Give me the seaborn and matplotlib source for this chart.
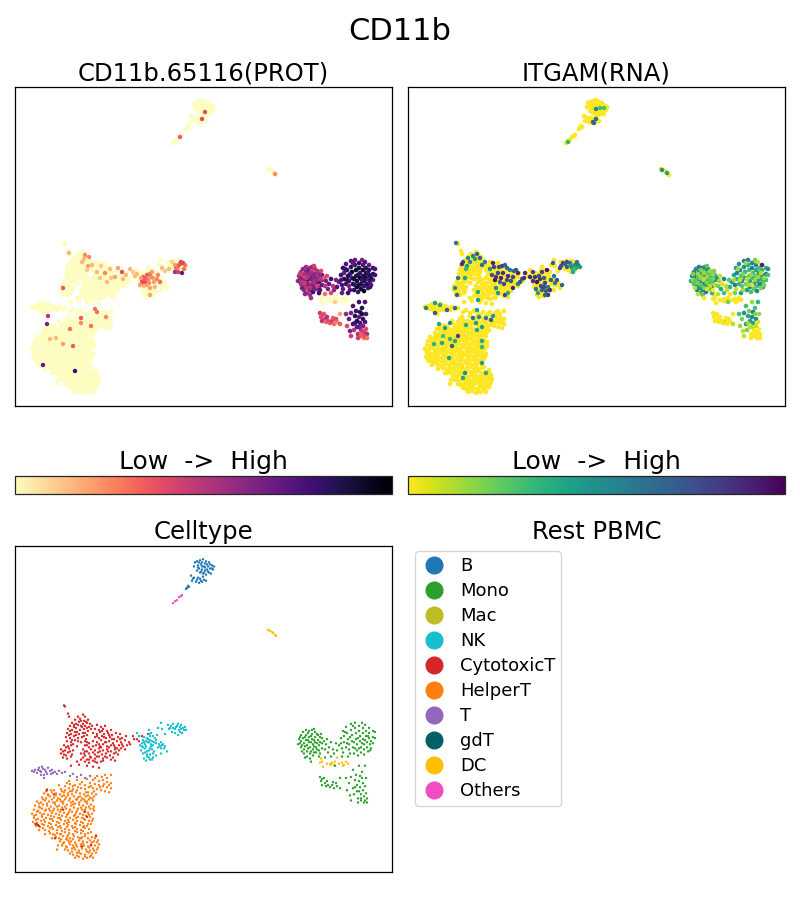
import matplotlib
matplotlib.use("Agg")
import matplotlib.pyplot as plt
import pandas as pd
import seaborn as sns
from matplotlib.cm import ScalarMappable
from matplotlib.colors import Normalize
from matplotlib.lines import Line2D

sns.set_style("white")
plt.rcParams["text.color"] = "black"
plt.rcParams["axes.labelcolor"] = "black"

title_main = "CD11b"
title_prot = "CD11b.65116(PROT)"
title_rna = "ITGAM(RNA)"
title_bar = "Low  ->  High"
title_type = "Celltype"
title_legend = "Rest PBMC"
celltypes = ["B", "Mono", "Mac", "NK", "CytotoxicT", "HelperT", "T", "gdT", "DC", "Others"]
type_colors = ["#1f77b4", "#2ca02c", "#bcbd22", "#17becf", "#d62728", "#ff7f0e", "#9467bd", "#006266", "#ffbf00", "#f14cc1"]

helper_cells = [
 (60,14),(64,15),(68,13),(72,14),(75,15),(78,14),(55,18),(58,17),(62,19),(66,18),(70,17),(74,19),(77,18),(81,19),
 (50,22),(53,21),(57,23),(60,22),(64,21),(67,23),(71,22),(75,21),(78,23),(82,22),(47,26),(51,25),(55,27),(58,26),
 (62,25),(66,27),(69,26),(73,25),(76,27),(80,26),(84,27),(45,30),(49,29),(53,31),(56,30),(60,29),(64,31),(68,30),
 (72,29),(75,31),(79,30),(83,31),(41,34),(44,33),(48,35),(52,34),(55,33),(59,35),(63,34),(66,33),(70,35),(77,34),(81,36),
 (38,37),(42,38),(46,37),(50,39),(54,38),(58,37),(62,39),(66,38),(70,37),(30,41),(34,40),(38,42),(42,41),(46,43),
 (50,42),(54,41),(58,43),(62,42),(66,41),(70,43),(74,42),(21,45),(25,44),(29,46),(33,45),(37,44),(41,46),(45,45),
 (49,47),(53,46),(57,45),(61,47),(65,46),(69,45),(73,47),(18,49),(22,48),(26,50),(30,49),(34,48),(38,50),(42,49),
 (46,51),(50,50),(54,49),(58,51),(62,50),(66,49),(70,51),(74,50),(19,53),(23,52),(27,54),(31,53),(35,52),(39,54),
 (43,53),(47,55),(51,54),(55,53),(59,55),(63,54),(67,53),(71,55),(75,54),(78,52),(17,57),(21,56),(25,58),(29,57),
 (33,56),(37,58),(41,57),(45,59),(49,58),(53,57),(57,59),(61,58),(65,57),(69,59),(73,58),(77,57),(79,60),(19,61),
 (23,60),(27,62),(31,61),(35,60),(39,62),(43,61),(47,63),(51,62),(55,61),(59,63),(63,62),(67,61),(71,63),(75,62),
 (20,65),(24,64),(28,66),(32,65),(36,64),(40,66),(44,65),(48,67),(52,66),(56,65),(60,67),(64,66),(68,65),(72,67),
 (76,66),(79,64),(22,69),(26,68),(30,70),(34,69),(38,68),(42,70),(46,69),(50,71),(54,70),(58,69),(62,71),(66,70),
 (70,69),(74,71),(78,70),(27,73),(31,72),(35,74),(39,73),(43,72),(47,74),(51,73),(55,72),(59,74),(63,73),(67,72),
 (71,74),(75,73),(79,74),(29,77),(33,76),(37,78),(41,77),(45,76),(49,78),(53,77),(57,76),(61,78),(65,77),(69,76),
 (73,78),(77,77),(81,76),(32,81),(36,80),(46,81),(50,80),(54,82),(58,81),(62,80),(66,82),(70,81),(74,83),(78,82),
 (82,81),(86,80),(90,79),(94,78),(44,85),(50,84),(55,86),(60,85),(65,86),(70,85),(75,87),(80,86),(84,85),(88,84),
 (92,83),(96,82),(54,89),(62,90),(72,91),(78,90),(84,89),(88,90),(92,88),(96,87),(82,94),(87,93),(92,92),(96,95),
 (42,22),(45,37),(35,38),(73,38),(67,34),(43,26),(37,33),(30,37),(24,41),
 (62,16),(70,15),(76,16),(57,20),(64,19),(72,20),(79,21),(52,24),(59,24),(66,25),(74,24),(83,24),(48,28),(54,29),
 (61,27),(68,28),(77,29),(82,29),(46,32),(51,32),(58,32),(65,33),(73,33),(80,33),(40,36),(47,40),(53,36),(60,40),
 (68,40),(76,39),(28,43),(35,43),(43,44),(52,44),(60,44),(68,44),(72,45),(20,47),(27,47),(36,47),(44,48),(52,48),
 (60,48),(68,48),(76,47),(21,51),(29,51),(37,52),(45,53),(53,51),(61,53),(69,52),(77,50),(19,55),(27,56),(36,55),
 (44,56),(52,56),(60,56),(68,56),(74,56),(22,59),(30,60),(38,60),(46,61),(54,59),(62,60),(70,61),(78,62),(25,63),
 (34,62),(42,64),(50,64),(58,66),(66,63),(74,64),(24,67),(32,67),(40,68),(48,69),(56,68),(64,68),(72,69),(28,71),
 (37,71),(45,71),(53,75),(61,71),(69,71),(77,72),(33,75),(41,75),(49,75),(57,79),(65,74),(73,75),(31,79),(39,80),
 (47,79),(55,79),(63,83),(71,78),(79,79),(85,83),(52,87),(58,84),(67,88),(76,84),(89,86),(94,85),(80,92),(90,95),
]
cytotoxic_cells = [
 (49,163),(50,162),(53,155),(54,152),(63,152),(68,154),(70,152),(60,149),(65,150),(69,148),(73,149),(57,146),(61,145),
 (64,147),(68,145),(72,146),(75,145),(55,143),(59,142),(63,144),(67,142),(70,143),(74,142),(77,143),(82,144),(86,142),
 (90,143),(53,140),(57,139),(61,141),(65,139),(69,140),(73,138),(76,140),(84,139),(88,140),(92,138),(96,139),(52,136),
 (56,135),(60,137),(64,135),(68,136),(72,134),(78,136),(82,135),(85,137),(89,135),(93,136),(97,134),(101,136),(105,135),
 (51,132),(55,131),(59,133),(63,131),(67,132),(71,130),(80,132),(84,131),(87,133),(91,131),(95,132),(99,130),(103,132),
 (107,131),(111,133),(52,128),(56,127),(60,129),(66,127),(70,128),(74,126),(78,128),(82,127),(86,129),(90,127),(94,128),
 (98,126),(102,128),(106,127),(110,129),(114,127),(49,124),(53,123),(58,125),(62,123),(70,124),(74,122),(81,124),(85,123),
 (88,125),(92,123),(96,124),(100,122),(104,124),(108,123),(115,125),(46,120),(50,119),(54,121),(58,119),(68,120),(72,118),
 (76,120),(80,119),(84,121),(88,119),(92,120),(96,118),(100,120),(104,119),(110,120),(46,116),(49,115),(53,117),(57,115),
 (66,116),(70,114),(74,116),(80,115),(83,117),(87,115),(91,116),(95,114),(99,116),(103,115),(48,112),(52,111),(56,113),
 (68,112),(72,110),(76,112),(80,111),(84,113),(88,111),(92,112),(96,110),(62,108),(70,108),(74,107),(78,109),(82,107),
 (86,108),(100,109),(56,104),(64,105),(72,104),(78,103),(84,102),(21,47),(23,46),(24,45),(48,61),(70,59),(32,80),(81,35),
 (40,33),(67,25),(72,54),(39,76),(76,26),(122,130),(124,128),(127,133),(133,135),(118,133),(119,130),
 (66,148),(71,147),(59,144),(66,143),(72,141),(55,138),(62,137),(70,136),(80,140),(87,138),(94,134),(54,134),(61,134),
 (69,133),(82,133),(89,132),(97,130),(105,130),(57,129),(63,128),(72,127),(84,125),(91,127),(99,124),(107,125),(112,124),
 (51,122),(56,124),(72,124),(78,123),(86,122),(94,122),(102,121),(106,121),(48,118),(55,118),(70,118),(78,117),(85,118),
 (93,118),(101,117),(51,114),(69,116),(75,113),(82,113),(90,113),(98,112),(74,110),(80,108),(88,109),(66,110),
]
nk_cells = [
 (127,123),(128,129),(130,125),(132,131),(135,133),(137,128),(133,127),(130,121),(126,119),(128,116),(132,118),(135,121),
 (138,124),(141,126),(143,122),(139,118),(135,115),(132,113),(129,111),(135,110),(138,112),(141,114),(134,127),(136,125),
 (131,128),(127,126),(140,131),(136,136),(142,134),(146,127),(148,125),(145,123),(149,121),(152,118),(146,116),(128,122),
 (143,141),(147,140),(150,135),(153,144),(155,141),(158,145),(160,140),(157,137),(162,143),(164,139),(166,144),(168,141),
 (163,134),(160,136),(170,142),(171,139),(167,136),(165,142),(156,143),(146,146),(122,136),(134,139),(124,133),
 (129,127),(131,123),(133,130),(135,129),(136,123),(132,115),(134,119),(130,117),(137,120),(139,127),(141,129),(147,124),
 (138,116),(134,112),(131,109),(137,110),(125,124),(129,132),(134,135),(138,133),(144,125),(150,123),(146,121),(161,142),
 (165,137),(169,139),(158,141),(154,140),(163,145),(166,140),
]
t_cells = [
 (17,99),(20,100),(22,97),(24,102),(26,98),(28,101),(29,95),(31,98),(33,102),(35,99),(26,95),(29,92),(37,100),(40,98),
 (42,96),(44,99),(47,97),(50,98),(55,94),(58,96),(62,93),(66,95),(70,92),(75,94),(23,100),(27,103),(30,100),(32,96),
 (25,99),(36,96),(38,97),(19,98),
]
b_cells = [
 (180,303),(183,300),(185,305),(188,306),(191,304),(194,303),(197,300),(186,301),(189,299),(192,301),(195,297),(198,296),
 (184,297),(187,296),(190,295),(193,294),(196,292),(179,299),(182,295),(188,292),(191,291),(185,293),(176,290),(179,288),
 (182,286),(185,287),(188,289),(191,285),(177,285),(181,284),(184,283),(187,284),(189,286),(173,280),(172,278),(171,277),
 (174,279),(199,299),(182,304),(190,302),(184,303),(187,303),(193,299),(195,301),(187,299),(190,298),(192,296),(194,293),
 (186,294),(183,298),(197,297),(189,293),(178,287),(183,288),(186,285),
]
others_cells = [(158,263),(160,265),(162,266),(164,269),(166,270),(167,271)]
dc_cells = [
 (253,237),(255,236),(257,235),(258,234),(260,232),(261,231),(306,111),(305,107),(307,108),(308,103),(315,106),(317,107),
 (319,105),(316,105),(327,107),(329,105),(331,108),(328,104),(333,106),(322,112),(312,106),(320,108),(324,106),
]
# x, y, protein level, RNA level
mono_cells = [
 (284,130,.55,.45),(283,125,.6,.4),(286,134,.5,.55),(286,128,.65,.5),(286,122,.55,.3),(288,137,.6,.5),(288,131,.45,.55),
 (289,126,.6,.3),(289,120,.5,.45),(289,116,.6,.6),(291,139,.55,.55),(291,134,.65,.6),(291,129,.4,.25),(292,124,.7,.55),
 (292,118,.45,.5),(292,113,.5,.35),(294,138,.5,.6),(294,132,.6,.45),(294,127,.7,.2),(295,122,.5,.55),(295,116,.65,.6),
 (295,111,.55,.25),(297,139,.6,.5),(297,135,.4,.35),(297,130,.65,.6),(298,125,.55,.3),(298,120,.7,.55),(298,114,.8,.6),
 (300,137,.5,.55),(300,132,.6,.25),(300,127,.45,.4),(301,122,.7,.6),(301,117,.6,.3),(303,134,.65,.45),(303,129,.55,.3),
 (304,124,.75,.25),(304,119,.6,.55),(304,113,.8,.35),(307,131,.7,.3),(307,126,.6,.55),(307,121,.7,.1),(309,128,.35,.5),
 (310,120,.5,.2),(313,117,.65,.4),(316,127,.8,.55),(318,120,.5,.1),(316,113,.4,.3),(322,119,.75,.35),(320,104,.1,.2),
 (310,112,.3,.1),(324,124,.7,.5),(326,131,.8,.4),(327,121,.75,.6),(328,138,.85,.45),(329,133,.7,.55),(329,127,.9,.35),
 (331,122,.8,.35),(331,142,.75,.5),(332,136,.85,.6),(333,130,.9,.3),(334,125,.8,.55),(334,120,.65,.25),(336,145,.75,.6),
 (336,139,.85,.5),(337,134,.95,.35),(337,128,.8,.4),(338,122,.9,.2),(339,116,.85,.45),(340,146,.7,.55),(340,141,.8,.4),
 (341,136,.95,.3),(341,130,.85,.25),(342,125,.9,.4),(342,119,.95,.55),(343,114,.8,.3),(344,143,.85,.55),(344,138,.9,.6),
 (345,133,.8,.3),(345,128,.95,.35),(346,122,.85,.5),(346,117,.9,.25),(348,141,.75,.55),(348,136,.95,.4),(348,130,.85,.25),
 (349,125,.9,.45),(349,120,.8,.3),(349,115,.95,.55),(351,138,.85,.3),(351,133,.9,.5),(352,127,.75,.4),(352,122,.85,.55),
 (354,141,.7,.9),(354,136,.85,.35),(354,131,.9,.45),(355,125,.8,.3),(355,119,.9,.5),(358,138,.8,.35),(358,132,.85,.55),
 (358,126,.7,.3),(360,137,.75,.5),(360,131,.8,.3),(327,113,.7,.2),(333,113,.8,.45),(305,93,.45,.0),(306,89,.4,.0),
 (307,85,.5,.0),(309,92,.35,.0),(310,87,.45,.0),(311,84,.3,.0),(313,85,.4,.0),(315,83,.35,.0),(317,85,.45,.05),(319,82,.3,.0),
 (322,84,.25,.0),(325,82,.35,.1),(325,92,.2,.0),(331,92,.6,.3),(332,80,.4,.15),(334,87,.7,.2),(335,75,.65,.1),(336,93,.65,.5),
 (338,100,.75,.3),(338,82,.8,.45),(339,76,.5,.2),(340,90,.85,.4),(341,95,.8,.2),(342,85,.9,.5),(342,79,.75,.1),(343,72,.55,.0),
 (344,104,.8,.15),(344,89,.7,.55),(345,94,.85,.6),(345,83,.75,.4),(346,76,.5,.0),(346,70,.35,.0),(347,98,.85,.3),(348,87,.85,.55),
 (348,80,.65,.1),(349,74,.45,.0),(349,68,.3,.0),(350,104,.75,.35),(351,92,.75,.15),(351,77,.4,.0),(352,72,.55,.0),
 (285,132,.45,.2),(285,126,.6,.15),(287,124,.5,.25),(287,118,.65,.1),(290,132,.55,.15),(290,123,.45,.2),(290,112,.6,.1),
 (293,136,.65,.2),(293,129,.5,.15),(293,121,.6,.25),(296,133,.55,.15),(296,127,.65,.1),(296,118,.5,.2),(296,108,.55,.0),
 (299,140,.45,.25),(299,129,.6,.15),(299,123,.55,.2),(299,117,.65,.05),(302,135,.5,.15),(302,126,.6,.25),(302,120,.45,.1),
 (305,132,.6,.15),(305,127,.5,.2),(305,116,.75,.0),(306,135,.4,.2),(311,125,.65,.15),(312,130,.4,.1),(314,122,.7,.05),
 (319,116,.6,.1),(321,126,.65,.25),(326,126,.75,.15),(328,117,.7,.1),(330,137,.8,.15),(332,126,.85,.1),(335,132,.8,.2),
 (335,116,.75,.15),(338,143,.7,.15),(339,127,.9,.1),(340,121,.8,.15),(343,131,.85,.15),(344,121,.9,.05),(347,146,.65,.2),
 (347,126,.8,.15),(350,144,.75,.1),(350,129,.9,.15),(353,118,.8,.2),(353,133,.8,.1),(356,128,.85,.15),(356,121,.75,.2),
 (307,91,.4,.0),(312,89,.5,.0),(318,88,.35,.0),(321,87,.4,.0),(340,83,.8,.15),(344,79,.7,.1),(347,92,.9,.2),(350,84,.75,.05),
 (346,72,.35,.0),(350,70,.4,.0),(343,68,.45,.0),(352,68,.3,.0),(336,70,.45,.1),
]
# cells that stand out from the low background: x, y, level
prot_high = [
 (48,118,.35),(33,90,.5),(32,82,.65),(66,88,.35),(55,77,.3),(76,80,.3),(80,97,.3),(82,94,.3),(91,89,.25),(58,60,.35),
 (28,41,.7),(60,35,.8),(48,62,.2),(41,68,.15),(66,83,.25),(35,67,.15),(54,153,.15),(70,151,.25),(74,149,.25),(67,144,.15),
 (73,140,.2),(82,134,.15),(90,133,.25),(107,134,.4),(103,138,.2),(115,137,.15),(100,129,.2),(108,127,.15),(92,124,.15),
 (127,126,.35),(128,129,.35),(132,131,.35),(135,132,.3),(130,124,.4),(127,123,.4),(133,126,.25),(137,134,.2),(138,128,.2),
 (145,124,.3),(147,138,.15),(135,118,.2),(135,111,.2),(125,121,.2),(140,119,.15),(129,120,.15),(122,132,.15),(143,131,.25),
 (168,143,.45),(165,142,.4),(160,134,.55),(167,133,.7),(163,134,.45),(160,141,.2),(170,141,.3),(157,144,.1),(163,138,.2),
 (154,137,.15),(187,287,.4),(190,294,.4),(165,269,.35),(260,232,.25),(69,147,.15),(77,141,.15),(86,140,.12),(96,128,.12),(120,130,.15),
 (131,128,.3),(134,123,.25),(129,127,.35),(136,129,.25),(126,128,.2),(132,121,.2),(139,124,.2),(142,127,.25),(150,135,.12),
 (164,141,.35),(166,144,.4),(161,138,.3),(169,137,.3),(118,134,.12),(111,131,.15),(95,137,.15),(85,128,.12),(72,136,.12),
]
rna_high = [
 (48,163,.6),(65,150,.55),(69,152,.7),(72,148,.7),(62,144,.5),(55,144,.75),(54,142,.85),(59,140,.45),(74,141,.65),(85,143,.9),
 (86,139,.8),(82,137,.5),(97,141,.7),(102,136,.6),(95,133,.85),(90,133,.8),(87,126,.95),(92,124,.7),(99,126,.75),(105,129,.8),
 (110,133,.9),(112,124,.75),(105,118,.9),(117,133,.85),(122,129,.9),(129,124,.95),(127,129,.85),(134,134,.8),(139,136,.95),
 (137,123,.8),(134,116,.7),(130,113,.45),(140,111,.85),(137,111,.7),(149,126,.75),(154,121,.7),(145,143,.7),(155,143,.8),
 (159,139,.7),(162,143,.6),(167,141,.55),(170,141,.6),(165,134,.4),(164,138,.45),(159,144,.75),(140,119,.6),(50,128,.6),
 (57,128,.4),(47,118,.5),(49,111,.7),(70,106,.45),(70,114,.4),(90,113,.45),(97,111,.8),(100,113,.4),(18,98,.55),(27,103,.45),
 (32,101,.4),(27,93,.7),(39,96,.7),(47,98,.65),(69,96,.45),(65,88,.6),(71,89,.5),(78,88,.6),(85,90,.45),(83,86,.7),(68,83,.45),
 (74,79,.45),(69,76,.4),(58,81,.4),(42,83,.5),(31,82,.4),(37,78,.45),(35,70,.3),(50,70,.8),(44,60,.7),(34,63,.4),(26,62,.35),
 (42,67,.35),(47,65,.4),(74,65,.4),(74,59,.35),(41,48,.4),(74,43,.45),(78,33,.4),(57,33,.5),(55,28,.4),(188,297,.55),
 (192,298,.3),(196,298,.3),(185,284,.7),(188,287,.65),(186,283,.7),(160,264,.35),(254,236,.5),(259,233,.45),(60,148,.55),
 (94,140,.8),(100,130,.85),(108,136,.75),(114,127,.7),(84,131,.75),(93,128,.9),(125,134,.8),(132,127,.85),(136,119,.8),
 (143,126,.7),(146,130,.6),(142,116,.85),(168,138,.4),(172,139,.45),(152,138,.8),(110,122,.6),(88,118,.5),
 (67,147,.45),(58,137,.35),(77,144,.6),(91,139,.75),(99,138,.65),(106,135,.7),(88,129,.85),(96,122,.8),(103,125,.75),(116,128,.85),
 (125,125,.85),(131,130,.75),(136,128,.7),(133,120,.75),(138,115,.7),(128,117,.6),(147,123,.6),(153,140,.75),(157,142,.7),
 (163,140,.5),(169,144,.6),(166,137,.35),
]

dc_levels = [.3 if i < 6 else .05 for i in range(len(dc_cells))]

def frame(name, cells):
    rows = pd.DataFrame(cells).iloc[:, :2]
    rows.columns = ["x", "y"]
    rows["celltype"] = name
    return rows

plain = pd.concat([
    frame("HelperT", helper_cells), frame("CytotoxicT", cytotoxic_cells), frame("NK", nk_cells),
    frame("T", t_cells), frame("B", b_cells), frame("Others", others_cells), frame("DC", dc_cells),
], ignore_index=True)
plain["prot"] = 0.0
plain["rna"] = 0.0
mono = pd.DataFrame(mono_cells, columns=["x", "y", "prot", "rna"])
mono["celltype"] = "Mono"
cells = pd.concat([plain, mono], ignore_index=True)
prot_top = pd.DataFrame(prot_high, columns=["x", "y", "level"])
rna_top = pd.DataFrame(rna_high, columns=["x", "y", "level"])

fig = plt.figure(figsize=(8, 9), dpi=100)

def box(left, top, right, bottom):
    return fig.add_axes([left / 800, 1 - bottom / 900, (right - left) / 800, (bottom - top) / 900])

def frame_axes(ax):
    ax.set_xlim(0, 377)
    ax.set_ylim(0, 319)
    ax.set_xticks([])
    ax.set_yticks([])
    ax.set_xlabel("")
    ax.set_ylabel("")
    for spine in ax.spines.values():
        spine.set_visible(True)
        spine.set_color("black")
        spine.set_linewidth(0.9)

def expression(ax, column, top, cmap, title):
    sns.scatterplot(data=cells, x="x", y="y", hue=column, palette=cmap,
                    hue_norm=(0, 1), s=11, linewidth=0, legend=False, ax=ax)
    sns.scatterplot(data=top, x="x", y="y", hue="level", palette=cmap,
                    hue_norm=(0, 1), s=10, linewidth=0, legend=False, ax=ax)
    frame_axes(ax)
    ax.set_title(title, fontsize=17.5, pad=5, color="black")

expression(box(15, 87, 392, 406), "prot", prot_top, "magma_r", title_prot)
expression(box(408, 87, 785, 406), "rna", rna_top, "viridis_r", title_rna)

for (left, right), cmap in (((15, 392), "magma_r"), ((408, 785), "viridis_r")):
    cax = box(left, 476, right, 494)
    cbar = fig.colorbar(ScalarMappable(Normalize(0, 1), cmap), cax=cax, orientation="horizontal")
    cbar.set_ticks([])
    cbar.outline.set_linewidth(0.9)
    cax.set_title(title_bar, fontsize=18, pad=5, color="black")

ax_type = box(15, 546, 392, 872)
palette = dict(zip(celltypes, type_colors))
sns.scatterplot(data=cells, x="x", y="y", hue="celltype", palette=palette, s=3, linewidth=0, legend=False, ax=ax_type)
frame_axes(ax_type)
ax_type.set_title(title_type, fontsize=17.5, pad=5, color="black")

ax_leg = box(408, 546, 785, 872)
ax_leg.axis("off")
ax_leg.set_title(title_legend, fontsize=17.5, pad=5, color="black")
handles = [Line2D([], [], linestyle="", marker="o", markersize=12, color=c, label=n)
           for n, c in zip(celltypes, type_colors)]
ax_leg.legend(handles=handles, loc="upper left", bbox_to_anchor=(0.004, 1.0), fontsize=13,
              frameon=True, labelspacing=0.39, handlelength=1.5, handletextpad=0.7,
              borderpad=0.3, borderaxespad=0.3, labelcolor="black")

fig.text(0.5, 1 - 31 / 900, title_main, ha="center", va="center", fontsize=22, color="black")
fig.savefig("out.png", dpi=100)
